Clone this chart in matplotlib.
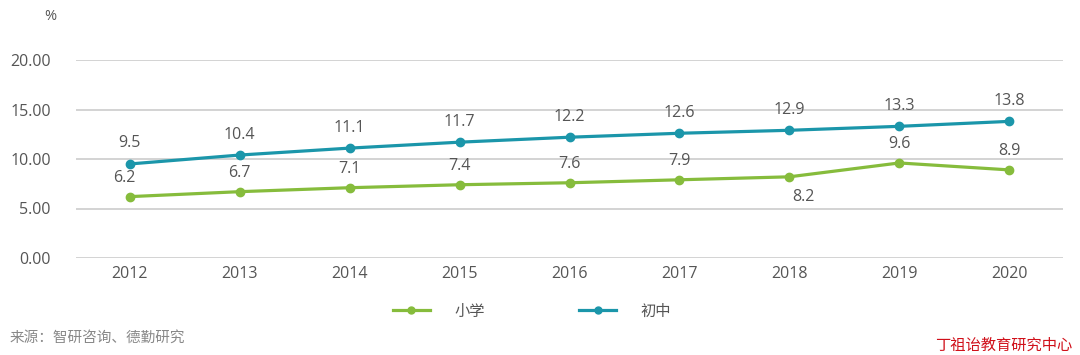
import matplotlib
matplotlib.use("Agg")
import matplotlib.pyplot as plt
from matplotlib.lines import Line2D

plt.rcParams['font.family'] = ['Open Sans', 'Noto Sans CJK SC', 'DejaVu Sans']

years = ['2012', '2013', '2014', '2015', '2016', '2017', '2018', '2019', '2020']
primary = [6.2, 6.7, 7.1, 7.4, 7.6, 7.9, 8.2, 9.6, 8.9]
junior = [9.5, 10.4, 11.1, 11.7, 12.2, 12.6, 12.9, 13.3, 13.8]
series_names = ['小学', '初中']
yticks = [0, 5, 10, 15, 20]

green = '#86bc3c'
teal = '#1b96aa'
gray = '#555555'

fig = plt.figure(figsize=(10.8, 3.55), dpi=100)
ax = fig.add_axes([76/1080, 1 - 258/355, (1063-76)/1080, (258-60)/355])

x = list(range(len(years)))
ax.plot(x, primary, color=green, lw=2.3, marker='o', ms=6, zorder=3)
ax.plot(x, junior, color=teal, lw=2.3, marker='o', ms=6, zorder=3)

for i, v in enumerate(junior):
    ax.annotate(f'{v:.1f}', (i, v), xytext=(0, 9), textcoords='offset points',
                ha='center', va='bottom', fontsize=11.5, color=gray)
for i, v in enumerate(primary):
    if years[i] == '2018':
        ax.annotate(f'{v:.1f}', (i, v), xytext=(10, -9), textcoords='offset points',
                    ha='center', va='top', fontsize=11.5, color=gray)
    else:
        ax.annotate(f'{v:.1f}', (i, v), xytext=(-4 if i == 0 else 0, 8), textcoords='offset points',
                    ha='center', va='bottom', fontsize=11.5, color=gray)

ax.set_xlim(-0.49, len(years) - 0.51)
ax.set_ylim(0, 20)
ax.set_yticks(yticks)
ax.set_yticklabels([f'{t:.2f}' for t in yticks])
ax.set_xticks(x)
ax.set_xticklabels(years)
ax.tick_params(axis='both', length=0, labelsize=11.5, colors=gray)
ax.tick_params(axis='y', pad=18)
ax.tick_params(axis='x', pad=6)
ax.grid(axis='y', color='#cccccc', lw=1.2)
ax.set_axisbelow(True)
for s in ax.spines.values():
    s.set_visible(False)

fig.text(50/1080, 1 - 16/355, '%', ha='center', va='center', fontsize=10.5, color=gray)

handles = [Line2D([0], [0], color=green, lw=2.3, marker='o', ms=5),
           Line2D([0], [0], color=teal, lw=2.3, marker='o', ms=5)]
fig.legend(handles, series_names, loc='center', bbox_to_anchor=(532/1080, 1 - 311/355),
           ncol=2, frameon=False, labelcolor=gray, handlelength=2.4,
           columnspacing=6.2, handletextpad=1.6,
           prop={'family': ['Noto Sans CJK SC'], 'size': 11})

fig.text(10/1080, 1 - 338/355, '来源：智研咨询、德勤研究', ha='left', va='center',
         fontsize=10.5, color='#888888', family=['Noto Sans CJK SC'])
fig.text(1072/1080, 1 - 345/355, '丁祖诒教育研究中心', ha='right', va='center',
         fontsize=11, color='#d0101a', family=['Noto Sans CJK SC'])

fig.savefig('out.png', dpi=100)
